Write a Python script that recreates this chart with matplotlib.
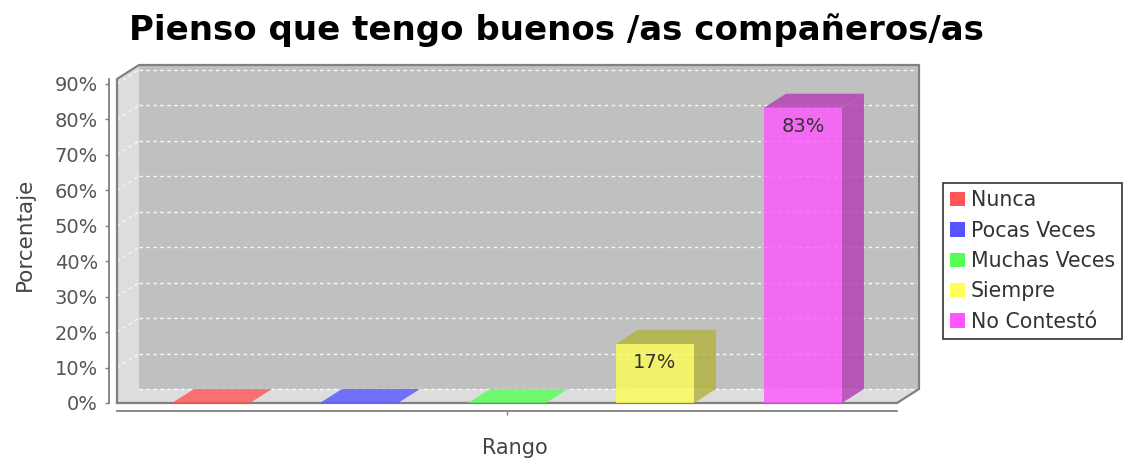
import matplotlib
matplotlib.use("Agg")
import matplotlib.pyplot as plt
from matplotlib.patches import Polygon, Patch
from matplotlib.ticker import FuncFormatter

# ---- data ----
title = "Pienso que tengo buenos /as compañeros/as"
series = ["Nunca", "Pocas Veces", "Muchas Veces", "Siempre", "No Contestó"]
values = [0, 0, 0, 16.7, 83.3]          # percent
colors = ["#FF5555", "#5555FF", "#55FF55", "#FFFF55", "#FF55FF"]
x_label = "Rango"
y_label = "Porcentaje"
y_ticks = [0, 10, 20, 30, 40, 50, 60, 70, 80, 90]

FW, FH = 1130, 463
fig = plt.figure(figsize=(FW / 100, FH / 100), dpi=100)
fig.patch.set_facecolor("white")

# front plane in pixels
L, R, T, B = 117, 897, 79, 403
ax = fig.add_axes([L / FW, (FH - B) / FH, (R - L) / FW, (B - T) / FH])
ax.set_facecolor("none")

ymax = 91.4
m = 0.135
x0, x1 = -0.5 - m, len(series) - 0.5 + m
ax.set_xlim(x0, x1)
ax.set_ylim(0, ymax)

DX, DY = 22, 14
dxd = DX * (x1 - x0) / (R - L)
dyd = DY * ymax / (B - T)

wall_edge = "#808080"
# back wall
ax.add_patch(Polygon([(x0 + dxd, dyd), (x1 + dxd, dyd), (x1 + dxd, ymax + dyd), (x0 + dxd, ymax + dyd)],
                     closed=True, facecolor="#C0C0C0", edgecolor="none", clip_on=False, zorder=0))
# left wall
ax.add_patch(Polygon([(x0, 0), (x0, ymax), (x0 + dxd, ymax + dyd), (x0 + dxd, dyd)],
                     closed=True, facecolor="#DDDDDD", edgecolor="none", clip_on=False, zorder=0))
# floor
ax.add_patch(Polygon([(x0, 0), (x1, 0), (x1 + dxd, dyd), (x0 + dxd, dyd)],
                     closed=True, facecolor="#DDDDDD", edgecolor="none", clip_on=False, zorder=0))
# gridlines
for v in y_ticks:
    if v == 0:
        continue
    ax.plot([x0 + dxd, x1 + dxd], [v + dyd, v + dyd], color="white", lw=1.0,
            ls=(0, (2.5, 2.5)), clip_on=False, zorder=1, alpha=0.9)
    ax.plot([x0, x0 + dxd], [v, v + dyd], color="white", lw=1.0,
            ls=(0, (2.5, 2.5)), clip_on=False, zorder=1, alpha=0.7)
ax.plot([x0 + dxd, x1 + dxd], [dyd, dyd], color="white", lw=1.0,
        ls=(0, (2.5, 2.5)), clip_on=False, zorder=1, alpha=0.9)
# outline
ax.plot([x0, x0, x0 + dxd, x1 + dxd, x1 + dxd, x1, x0],
        [0, ymax, ymax + dyd, ymax + dyd, dyd, 0, 0],
        color=wall_edge, lw=1.6, clip_on=False, zorder=2)


def darker(c, f=0.7):
    r, g, b = matplotlib.colors.to_rgb(c)
    return (r * f, g * f, b * f)


alpha = 0.8
bw = 0.527
xs = list(range(len(series)))
bars = ax.bar(xs, values, width=bw, color=colors, alpha=alpha, zorder=3, clip_on=False)
for xi, v, c in zip(xs, values, colors):
    a, b = xi - bw / 2, xi + bw / 2
    top = [(a, v), (b, v), (b + dxd, v + dyd), (a + dxd, v + dyd)]
    tc = c if v == 0 else darker(c)
    ax.add_patch(Polygon(top, closed=True, facecolor=tc, edgecolor="none", alpha=alpha,
                         clip_on=False, zorder=3))
    if v > 0:
        side = [(b, 0), (b, v), (b + dxd, v + dyd), (b + dxd, dyd)]
        ax.add_patch(Polygon(side, closed=True, facecolor=darker(c), edgecolor="none", alpha=alpha,
                             clip_on=False, zorder=3))
        ax.annotate(f"{v:.0f}%", (xi, v), xytext=(0, -9), textcoords="offset pixels",
                    ha="center", va="top", fontsize=14, color="#333333", zorder=4)

# axes styling
for s in ["top", "right"]:
    ax.spines[s].set_visible(False)
ax.spines["left"].set_position(("outward", 5.8))
ax.spines["bottom"].set_position(("outward", 5.8))
for s in ["left", "bottom"]:
    ax.spines[s].set_color("#808080")
    ax.spines[s].set_linewidth(1.3)
ax.set_yticks(y_ticks)
ax.yaxis.set_major_formatter(FuncFormatter(lambda v, p: f"{v:.0f}%"))
ax.tick_params(axis="y", length=3, width=1, color="#808080", labelsize=14,
               labelcolor="#555555", pad=5)
ax.set_xticks([(len(series) - 1) / 2])
ax.set_xticklabels([""])
ax.tick_params(axis="x", length=3, width=1, color="#808080")

fig.text(556 / FW, (FH - 30) / FH, title, ha="center", va="center",
         fontsize=24.5, fontweight="bold", color="black")
fig.text(515 / FW, (FH - 448) / FH, x_label, ha="center", va="center",
         fontsize=15, color="#444444")
fig.text(25 / FW, (FH - 234) / FH, y_label, ha="center", va="center",
         rotation=90, fontsize=15.5, color="#444444")

handles = [Patch(facecolor=c, edgecolor="none") for c in colors]
leg = fig.legend(handles, series, loc="center left",
                 bbox_to_anchor=(943 / FW, (FH - 261) / FH),
                 fontsize=14.8, frameon=True, fancybox=False, edgecolor="black",
                 handlelength=0.7, handleheight=0.7, handletextpad=0.3,
                 labelspacing=0.5, borderpad=0.35, borderaxespad=0)
leg.get_frame().set_linewidth(1.2)
for t in leg.get_texts():
    t.set_color("#333333")

fig.savefig("out.png", dpi=100)
